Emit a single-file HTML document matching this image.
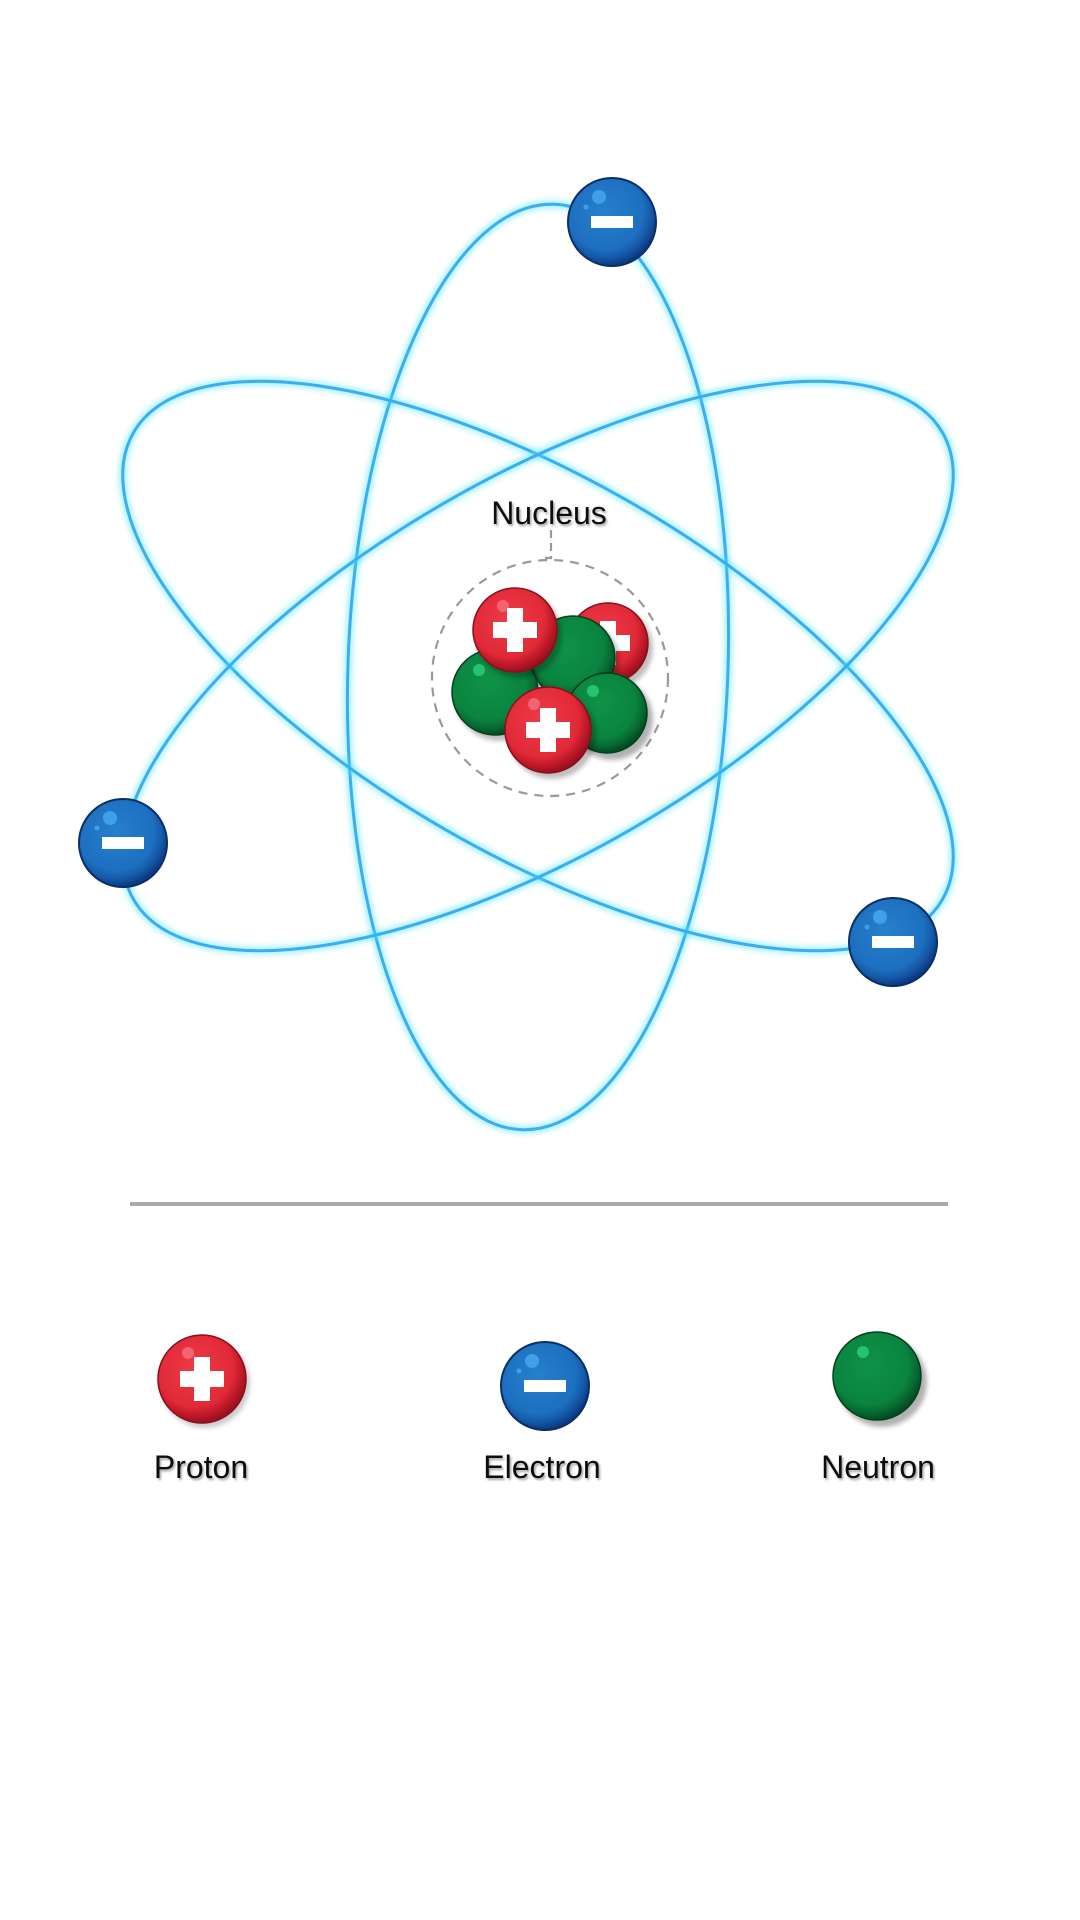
<!DOCTYPE html>
<html><head><meta charset="utf-8"><style>
html,body{margin:0;padding:0;background:#fff;}
svg{display:block;}
text{font-family:"Liberation Sans",sans-serif;}
</style></head><body>
<svg width="1080" height="1920" viewBox="0 0 1080 1920" xmlns="http://www.w3.org/2000/svg">
<defs>
<radialGradient id="gr" cx="0.42" cy="0.38" r="0.62">
<stop offset="0" stop-color="#ee3a46"/><stop offset="0.7" stop-color="#e12a38"/><stop offset="0.85" stop-color="#c21a28"/><stop offset="1" stop-color="#9a1020"/></radialGradient>
<radialGradient id="gb" cx="0.42" cy="0.38" r="0.62">
<stop offset="0" stop-color="#2680cc"/><stop offset="0.7" stop-color="#1d6fc0"/><stop offset="0.85" stop-color="#1559a8"/><stop offset="1" stop-color="#0b3a80"/></radialGradient>
<radialGradient id="gg" cx="0.42" cy="0.38" r="0.62">
<stop offset="0" stop-color="#0f9248"/><stop offset="0.7" stop-color="#0a843f"/><stop offset="0.85" stop-color="#086c33"/><stop offset="1" stop-color="#054a22"/></radialGradient>
<filter id="glow" x="-20%" y="-20%" width="140%" height="140%"><feGaussianBlur stdDeviation="3"/></filter>
<filter id="sh" x="-30%" y="-30%" width="160%" height="160%"><feGaussianBlur stdDeviation="2.5"/></filter>
<filter id="ts" x="-10%" y="-10%" width="120%" height="130%"><feDropShadow dx="1.5" dy="2" stdDeviation="1" flood-color="#000" flood-opacity="0.35"/></filter>
</defs>

<g fill="none">
 <g transform="translate(538,667) rotate(2)">
  <ellipse rx="190" ry="463" stroke="#4de3ff" stroke-width="8" opacity="0.5" filter="url(#glow)"/>
  <ellipse rx="190" ry="463" stroke="#3aaef0" stroke-width="3"/>
 </g>
 <g transform="translate(538,666) rotate(30)">
  <ellipse rx="467" ry="188" stroke="#4de3ff" stroke-width="8" opacity="0.5" filter="url(#glow)"/>
  <ellipse rx="467" ry="188" stroke="#3aaef0" stroke-width="3"/>
 </g>
 <g transform="translate(538,666) rotate(-30)">
  <ellipse rx="467" ry="188" stroke="#4de3ff" stroke-width="8" opacity="0.5" filter="url(#glow)"/>
  <ellipse rx="467" ry="188" stroke="#3aaef0" stroke-width="3"/>
 </g>
</g>

<circle cx="550" cy="678" r="118" fill="#fff" fill-opacity="0.85" stroke="#999" stroke-width="2.2" stroke-dasharray="9 7"/>
<path d="M551 530 V558 H545" fill="none" stroke="#999" stroke-width="2.2" stroke-dasharray="8 5"/>
<text x="549" y="524" font-size="32" text-anchor="middle" fill="#111" filter="url(#ts)">Nucleus</text>

<g>
 <g transform="translate(608,643)"><circle r="41" cx="4" cy="5" fill="#000" opacity="0.25" filter="url(#sh)"/><circle r="40" fill="url(#gr)" stroke="#8a0e1c" stroke-width="1.5"/><rect x="-8" y="-22" width="16" height="44" fill="#fff"/><rect x="-22" y="-8" width="44" height="16" fill="#fff"/></g>
 <g transform="translate(573,658)"><circle r="43" cx="4" cy="5" fill="#000" opacity="0.25" filter="url(#sh)"/><circle r="42" fill="url(#gg)" stroke="#04401d" stroke-width="1.5"/></g>
 <g transform="translate(495,692)"><circle r="44" cx="4" cy="5" fill="#000" opacity="0.25" filter="url(#sh)"/><circle r="43" fill="url(#gg)" stroke="#04401d" stroke-width="1.5"/><circle cx="-16" cy="-22" r="6" fill="#2ecf7a" opacity="0.8"/></g>
 <g transform="translate(515,630)"><circle r="43" cx="4" cy="5" fill="#000" opacity="0.25" filter="url(#sh)"/><circle r="42" fill="url(#gr)" stroke="#8a0e1c" stroke-width="1.5"/><circle cx="-12" cy="-24" r="6" fill="#f57080" opacity="0.8"/><rect x="-8" y="-22" width="16" height="44" fill="#fff"/><rect x="-22" y="-8" width="44" height="16" fill="#fff"/></g>
 <g transform="translate(607,713)"><circle r="41" cx="5" cy="6" fill="#000" opacity="0.3" filter="url(#sh)"/><circle r="40" fill="url(#gg)" stroke="#04401d" stroke-width="1.5"/><circle cx="-14" cy="-22" r="6" fill="#2ecf7a" opacity="0.8"/></g>
 <g transform="translate(548,730)"><circle r="44" cx="4" cy="5" fill="#000" opacity="0.25" filter="url(#sh)"/><circle r="43" fill="url(#gr)" stroke="#8a0e1c" stroke-width="1.5"/><circle cx="-14" cy="-26" r="6" fill="#f57080" opacity="0.8"/><rect x="-8" y="-22" width="16" height="44" fill="#fff"/><rect x="-22" y="-8" width="44" height="16" fill="#fff"/></g>
</g>

<g transform="translate(612,222)"><circle r="44" fill="url(#gb)" stroke="#0a2f66" stroke-width="2"/><circle cx="-13" cy="-25" r="7" fill="#3fa0e8"/><circle cx="-26" cy="-15" r="2.5" fill="#3fa0e8"/><rect x="-21" y="-6" width="42" height="12" fill="#fff"/></g>
<g transform="translate(123,843)"><circle r="44" fill="url(#gb)" stroke="#0a2f66" stroke-width="2"/><circle cx="-13" cy="-25" r="7" fill="#3fa0e8"/><circle cx="-26" cy="-15" r="2.5" fill="#3fa0e8"/><rect x="-21" y="-6" width="42" height="12" fill="#fff"/></g>
<g transform="translate(893,942)"><circle r="44" fill="url(#gb)" stroke="#0a2f66" stroke-width="2"/><circle cx="-13" cy="-25" r="7" fill="#3fa0e8"/><circle cx="-26" cy="-15" r="2.5" fill="#3fa0e8"/><rect x="-21" y="-6" width="42" height="12" fill="#fff"/></g>

<rect x="130" y="1202" width="818" height="4" fill="#aaa"/>

<g transform="translate(202,1379)"><circle r="45" cx="3" cy="4" fill="#000" opacity="0.2" filter="url(#sh)"/><circle r="44" fill="url(#gr)" stroke="#8a0e1c" stroke-width="1.5"/><circle cx="-14" cy="-26" r="6" fill="#f57080" opacity="0.8"/><rect x="-8" y="-22" width="16" height="44" fill="#fff"/><rect x="-22" y="-8" width="44" height="16" fill="#fff"/></g>
<g transform="translate(545,1386)"><circle r="44" fill="url(#gb)" stroke="#0a2f66" stroke-width="2"/><circle cx="-13" cy="-25" r="7" fill="#3fa0e8"/><circle cx="-26" cy="-15" r="2.5" fill="#3fa0e8"/><rect x="-21" y="-6" width="42" height="12" fill="#fff"/></g>
<g transform="translate(877,1376)"><circle r="45" cx="5" cy="6" fill="#000" opacity="0.3" filter="url(#sh)"/><circle r="44" fill="url(#gg)" stroke="#04401d" stroke-width="1.5"/><circle cx="-14" cy="-24" r="6" fill="#2ecf7a" opacity="0.8"/></g>

<text x="201" y="1478" font-size="32" text-anchor="middle" fill="#111" filter="url(#ts)">Proton</text>
<text x="542" y="1478" font-size="32" text-anchor="middle" fill="#111" filter="url(#ts)">Electron</text>
<text x="878" y="1478" font-size="32" text-anchor="middle" fill="#111" filter="url(#ts)">Neutron</text>
</svg>
</body></html>
